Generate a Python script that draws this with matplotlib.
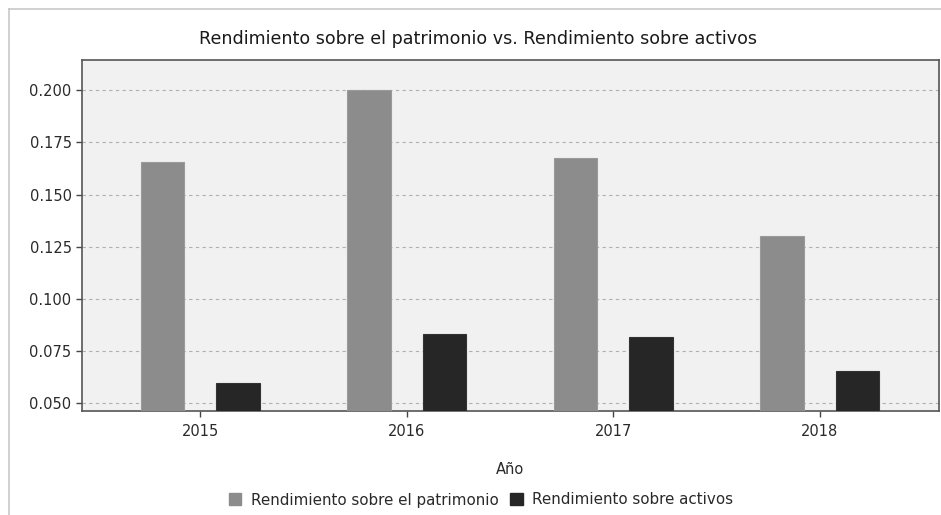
import numpy as np
import matplotlib
matplotlib.use("Agg")
import matplotlib.pyplot as plt
from matplotlib.lines import Line2D

# data
years = ["2015", "2016", "2017", "2018"]
roe = [0.1656, 0.2001, 0.1676, 0.1302]
roa = [0.0599, 0.0834, 0.0820, 0.0657]
series_names = ["Rendimiento sobre el patrimonio", "Rendimiento sobre activos"]
y_ticks = [0.050, 0.075, 0.100, 0.125, 0.150, 0.175, 0.200]

plt.rcParams['font.family'] = ['DejaVu Sans']

fig = plt.figure(figsize=(9.41, 5.15), dpi=100)
ax = fig.add_axes([82 / 941, (515 - 410.5) / 515, 857 / 941, 350.5 / 515])
ax.set_facecolor('#f1f1f1')

x = np.arange(len(years))
w = 0.21
ax.bar(x - 0.183, roe, w, bottom=0, color='#8c8c8c', edgecolor='#9a9a9a', linewidth=0.8, zorder=3)
ax.bar(x + 0.183, roa, w, bottom=0, color='#262626', edgecolor='#333333', linewidth=0.8, zorder=3)

ax.set_xlim(-0.573, 3.578)
ax.set_ylim(0.0466, 0.2144)
ax.set_yticks(y_ticks)
ax.set_yticklabels([f"{v:.3f}" for v in y_ticks])
ax.set_xticks(x)
ax.set_xticklabels(years)
ax.yaxis.grid(True, color='#b0b0b0', linestyle=(0, (3, 3)), linewidth=0.8, zorder=1)
ax.tick_params(axis='both', labelsize=10.5, colors='#444444', labelcolor='#2a2a2a', length=4, width=1)
ax.tick_params(axis='x', pad=6)
for s in ax.spines.values():
    s.set_color('#555555')
    s.set_linewidth(1.2)

ax.set_xlabel("Año", fontsize=10.5, color='#2a2a2a', labelpad=16)
fig.text(478 / 941, 1 - 39 / 515, "Rendimiento sobre el patrimonio vs. Rendimiento sobre activos",
         ha='center', va='center', fontsize=12.6, color='#1a1a1a')

# frame lines at top and left of the figure
fig.add_artist(Line2D([9 / 941, 1], [1 - 9 / 515, 1 - 9 / 515], color='#c8c8c8', lw=1.2))
fig.add_artist(Line2D([9 / 941, 9 / 941], [0, 1 - 9 / 515], color='#c8c8c8', lw=1.2))

handles = [plt.Rectangle((0, 0), 1, 1, color='#8c8c8c'), plt.Rectangle((0, 0), 1, 1, color='#262626')]
fig.legend(handles, series_names, loc='center', bbox_to_anchor=(481 / 941, 1 - 500 / 515), ncol=2,
           frameon=False, fontsize=10.9, handlelength=0.8, handleheight=0.8, handletextpad=0.65,
           columnspacing=0.8, labelcolor='#2a2a2a')

fig.savefig("out.png", dpi=100)
